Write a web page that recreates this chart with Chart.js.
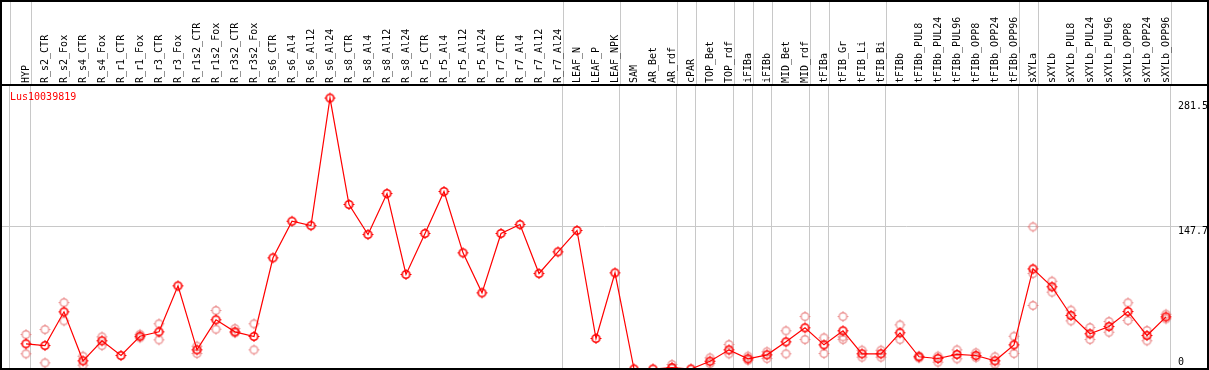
<!DOCTYPE html>
<html><head><meta charset="utf-8">
<script src="https://cdn.jsdelivr.net/npm/chart.js@4.4.1/dist/chart.umd.min.js"></script>
<style>html,body{margin:0;padding:0;background:#fff;overflow:hidden}#wrap{width:1209px;height:370px;position:relative}</style>
</head><body><div id="wrap"><canvas id="c" width="1209" height="370"></canvas></div>
<script>
const categories = ['HYP','R_s2_CTR','R_s2_Fox','R_s4_CTR','R_s4_Fox','R_r1_CTR','R_r1_Fox','R_r3_CTR','R_r3_Fox','R_r1s2_CTR','R_r1s2_Fox','R_r3s2_CTR','R_r3s2_Fox','R_s6_CTR','R_s6_Al4','R_s6_Al12','R_s6_Al24','R_s8_CTR','R_s8_Al4','R_s8_Al12','R_s8_Al24','R_r5_CTR','R_r5_Al4','R_r5_Al12','R_r5_Al24','R_r7_CTR','R_r7_Al4','R_r7_Al12','R_r7_Al24','LEAF_N','LEAF_P','LEAF_NPK','SAM','AR_Bet','AR_rdf','cPAR','TOP_Bet','TOP_rdf','iFIBa','iFIBb','MID_Bet','MID_rdf','tFIBa','tFIB_Gr','tFIB_Li','tFIB_Bi','tFIBb','tFIBb_PUL8','tFIBb_PUL24','tFIBb_PUL96','tFIBb_OPP8','tFIBb_OPP24','tFIBb_OPP96','sXYLa','sXYLb','sXYLb_PUL8','sXYLb_PUL24','sXYLb_PUL96','sXYLb_OPP8','sXYLb_OPP24','sXYLb_OPP96'];
const expression = [26.2,24.4,59.4,8.5,29.3,14.0,34.0,38.6,86.4,19.9,51.1,38.6,33.8,115.5,153.5,149.0,281.5,170.9,139.7,182.3,98.2,140.8,184.4,120.7,79.1,140.8,150.1,99.2,121.7,143.9,31.7,99.9,0,0,1.5,0,8.1,19.9,10.6,14.7,28.2,42.8,25.1,39.7,15.8,15.8,37.6,12.7,10.9,15.1,14.0,8.5,25.1,104.0,85.4,55.6,36.6,44.1,59.7,34.8,54.2];
const replicateHigh = [35.8,41.0,69.0,13.3,33.4,null,36.0,47.0,null,23.7,60.8,42.0,47.0,null,null,null,null,null,null,null,null,null,null,null,null,null,null,null,null,null,null,null,null,null,4.7,null,11.6,25.4,13.3,17.9,39.7,54.5,32.4,54.5,19.5,19.5,45.9,13.5,13.3,19.9,16.8,12.7,34.0,147.7,91.2,61.1,43.1,49.3,68.8,40.0,56.9];
const replicateLow = [15.8,6.4,50.0,4.0,24.4,null,32.4,30.3,null,16.1,41.3,37.6,19.9,null,null,null,null,null,null,null,null,null,null,null,null,null,null,null,null,null,null,null,null,null,0.5,null,5.7,15.8,9.1,10.9,15.8,30.6,16.1,30.6,12.3,12.3,30.6,11.5,7.1,10.6,11.9,5.0,16.1,66.0,79.8,50.0,30.6,38.2,50.4,29.3,52.1];
const replicateMid = [null,null,null,null,null,null,null,null,null,null,null,null,null,null,null,null,null,null,null,null,null,null,null,null,null,null,null,null,null,null,null,null,null,null,null,null,null,null,null,null,null,null,null,33.4,null,null,null,null,null,null,null,null,null,99.2,null,null,null,null,null,null,null];
const yTickValues = [281.5, 147.7, 0];
const yTickLabels = ['281.5', '147.7', '0'];
const groupBoundaries = [-0.85,0.24,28.24,31.24,34.24,35.24,37.24,38.24,39.24,41.24,42.24,45.24,52.24,53.24,60.24];
const geneName = 'Lus10039819';

const X_MIN = -26/19;
const X_MAX = X_MIN + 1209/19;
const MONO = 'DejaVu Sans Mono';

function makeMarker(color, lw) {
  const c = document.createElement('canvas'); c.width = 13; c.height = 13;
  const g = c.getContext('2d');
  g.strokeStyle = color; g.lineWidth = lw;
  g.beginPath(); g.arc(6.5, 6.5, 3.8, 0, Math.PI * 2); g.stroke();
  g.lineWidth = 1; g.beginPath();
  g.moveTo(6.5, 1); g.lineTo(6.5, 2.5);
  g.moveTo(6.5, 10.5); g.lineTo(6.5, 12);
  g.moveTo(1, 6.5); g.lineTo(2.5, 6.5);
  g.moveTo(10.5, 6.5); g.lineTo(12, 6.5);
  g.stroke();
  return c;
}
const mainMarker = makeMarker('#ff0000', 1.6);
const repMarker = makeMarker('rgba(230,110,110,0.7)', 1.4);

const toPts = arr => arr.map((v, i) => ({x: i, y: v}));

const decor = {
  id: 'decor',
  beforeDraw(chart) {
    const {ctx, chartArea, scales} = chart;
    ctx.save();
    ctx.strokeStyle = '#c8c8c8'; ctx.lineWidth = 1;
    groupBoundaries.forEach(b => {
      const px = Math.round(scales.x.getPixelForValue(b)) + 0.5;
      ctx.beginPath(); ctx.moveTo(px, 0); ctx.lineTo(px, chartArea.top); ctx.stroke();
    });
    ctx.restore();
  },
  afterDraw(chart) {
    const {ctx, chartArea, scales} = chart;
    ctx.save();
    ctx.font = '10px "' + MONO + '"';
    ctx.textBaseline = 'middle';
    ctx.textAlign = 'left';
    ctx.fillStyle = '#000';
    const offs = [8, 5, -7];
    yTickValues.forEach((v, k) => {
      ctx.fillText(yTickLabels[k], 1178, scales.y.getPixelForValue(v) + offs[k]);
    });
    ctx.fillStyle = '#ff0000';
    ctx.fillText(geneName, 10, chartArea.top + 11);
    ctx.strokeStyle = '#000'; ctx.lineWidth = 2;
    ctx.beginPath();
    ctx.moveTo(1, 0); ctx.lineTo(1, 370);
    ctx.moveTo(1208, 0); ctx.lineTo(1208, 370);
    ctx.moveTo(0, 1); ctx.lineTo(1209, 1);
    ctx.moveTo(0, 369); ctx.lineTo(1209, 369);
    ctx.moveTo(0, chartArea.top - 1); ctx.lineTo(1209, chartArea.top - 1);
    ctx.stroke();
    ctx.restore();
  }
};

new Chart(document.getElementById('c'), {
  type: 'line',
  data: {
    datasets: [
      {data: toPts(expression), borderColor: '#ff0000', borderWidth: 1.2, pointStyle: mainMarker, pointRadius: 5, tension: 0, fill: false},
      {data: toPts(replicateHigh), showLine: false, pointStyle: repMarker, pointRadius: 5},
      {data: toPts(replicateLow), showLine: false, pointStyle: repMarker, pointRadius: 5},
      {data: toPts(replicateMid), showLine: false, pointStyle: repMarker, pointRadius: 5}
    ]
  },
  options: {
    responsive: false,
    animation: false,
    layout: {padding: {left: 0, right: 0, top: 0, bottom: 1}, autoPadding: false},
    plugins: {legend: {display: false}, tooltip: {enabled: false}, title: {display: false}},
    scales: {
      x: {
        type: 'linear', position: 'bottom', min: X_MIN, max: X_MAX,
        afterBuildTicks: s => { s.ticks = groupBoundaries.map(v => ({value: v})); },
        ticks: {display: false},
        grid: {color: '#c8c8c8', lineWidth: 1, drawTicks: false},
        border: {display: false},
        afterFit: s => { s.height = 0; }
      },
      xTop: {
        type: 'linear', position: 'top', min: X_MIN, max: X_MAX,
        afterBuildTicks: s => { s.ticks = categories.map((_, i) => ({value: i})); },
        ticks: {autoSkip: false, maxRotation: 90, minRotation: 90, padding: 3, labelOffset: 12, color: '#000',
          font: {family: MONO, size: 10}, callback: v => categories[v]},
        grid: {display: false, drawTicks: false},
        border: {display: false},
        afterFit: s => { s.height = 86; }
      },
      y: {
        min: 0, max: 294,
        afterBuildTicks: s => { s.ticks = [{value: yTickValues[1]}]; },
        ticks: {display: false},
        grid: {color: '#c8c8c8', lineWidth: 1, drawTicks: false},
        border: {display: false},
        afterFit: s => { s.width = 0; }
      }
    }
  },
  plugins: [decor]
});
</script>
</body></html>
